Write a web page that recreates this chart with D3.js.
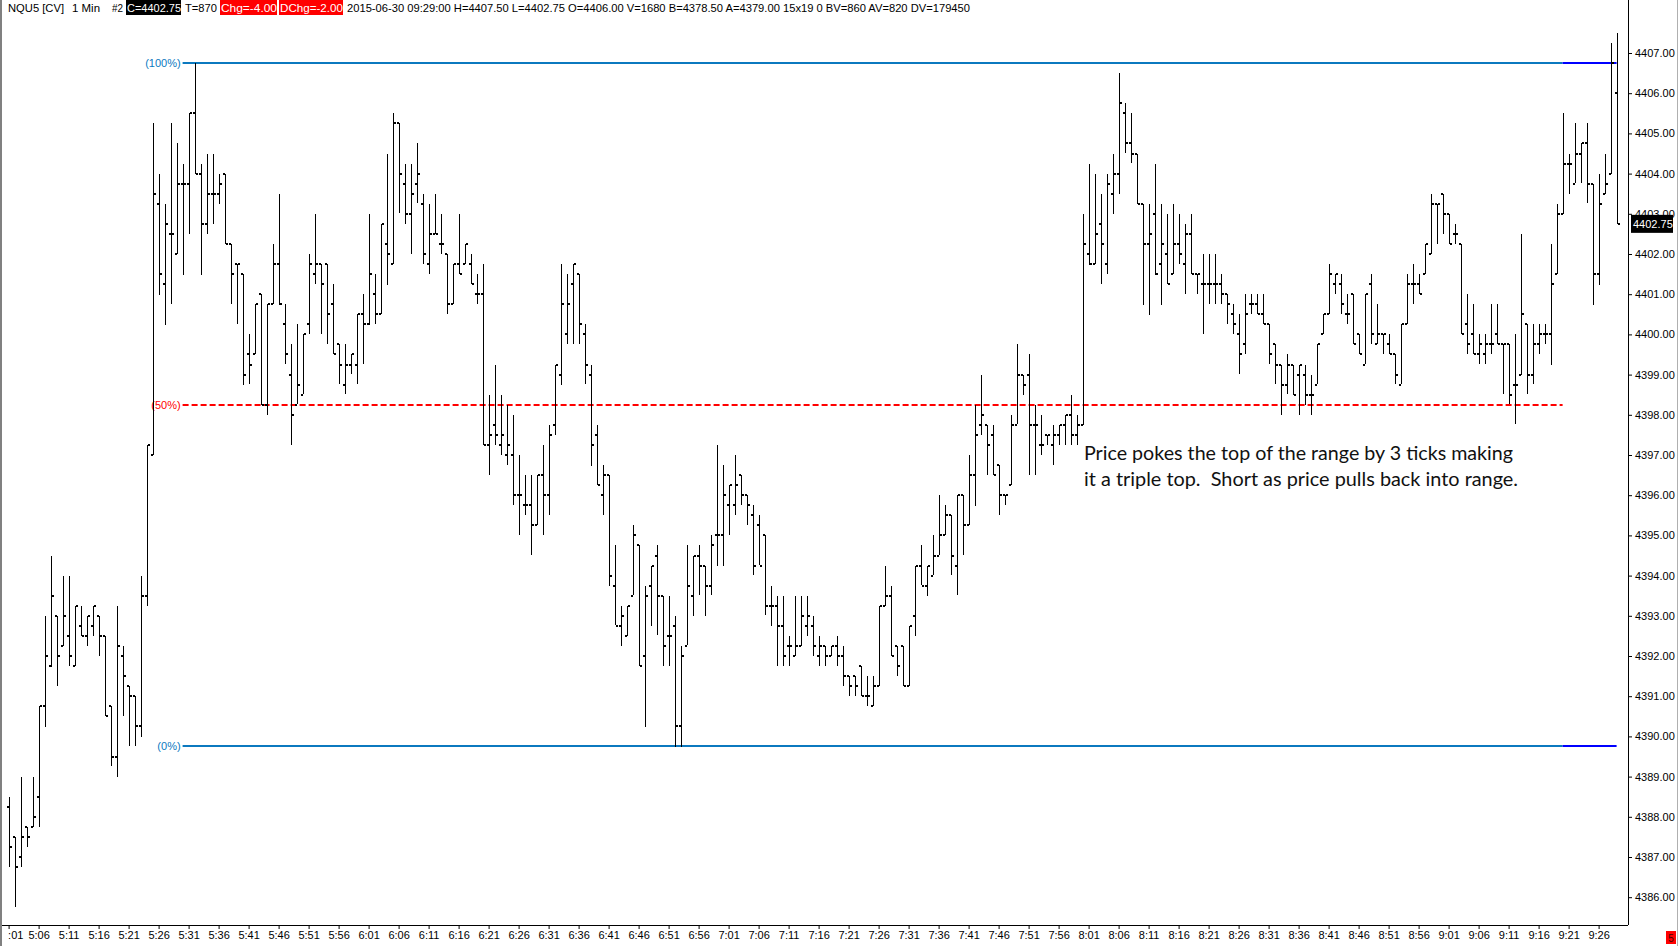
<!DOCTYPE html>
<html>
<head>
<meta charset="utf-8">
<script src="https://cdn.jsdelivr.net/npm/d3@7"></script>
<style>
  body { margin: 0; background: #fff; }
  svg { display: block; font-family: "Liberation Sans", Arial, sans-serif; }
</style>
</head>
<body>
<svg width="1680" height="946"></svg>
<script>
// 1 min bars, NQU5, 5:01 .. 9:29
var opens = [
  4388.25, 4387.5, 4387.0, 4387.75, 4387.75, 4388.5, 4390.75, 4391.75, 4393.0, 4392.25,
  4392.5, 4391.75, 4392.75, 4392.5, 4392.75, 4393.0, 4392.5, 4390.75, 4389.5, 4392.0,
  4391.25, 4391.0, 4390.25, 4393.5, 4397.0, 4403.25, 4401.25, 4402.5, 4402.0, 4403.75,
  4403.75, 4405.5, 4404.0, 4402.75, 4403.5, 4403.5, 4404.0, 4402.25, 4401.75, 4401.5,
  4399.5, 4399.5, 4401.0, 4398.25, 4400.75, 4401.75, 4400.25, 4399.0, 4398.25, 4398.5,
  4400.25, 4401.5, 4401.75, 4401.75, 4400.75, 4399.75, 4398.75, 4399.25, 4399.25, 4400.5,
  4400.25, 4401.0, 4400.5, 4402.25, 4401.75, 4405.25, 4403.75, 4403.0, 4403.75, 4403.25,
  4401.75, 4402.5, 4402.25, 4402.0, 4400.75, 4401.75, 4401.75, 4401.75, 4401.0, 4401.0,
  4397.25, 4397.75, 4397.25, 4397.0, 4397.0, 4396.0, 4395.75, 4395.75, 4395.25, 4396.5,
  4396.0, 4397.75, 4399.0, 4400.0, 4401.25, 4401.5, 4400.0, 4399.0, 4397.5, 4396.0,
  4396.5, 4393.75, 4392.75, 4392.5, 4393.5, 4394.75, 4392.0, 4393.75, 4394.5, 4393.5,
  4392.5, 4392.75, 4390.25, 4392.25, 4393.5, 4394.5, 4394.25, 4393.75, 4395.0, 4395.0,
  4395.75, 4395.75, 4396.5, 4396.0, 4395.5, 4395.25, 4395.0, 4393.25, 4393.25, 4392.75,
  4392.25, 4392.0, 4392.25, 4392.75, 4392.75, 4392.0, 4392.25, 4392.0, 4392.25, 4392.0,
  4391.5, 4391.5, 4391.75, 4391.0, 4390.75, 4391.25, 4393.25, 4393.5, 4392.25, 4392.25,
  4391.25, 4393.0, 4394.25, 4393.75, 4394.0, 4394.5, 4395.0, 4395.5, 4394.25, 4396.0,
  4395.25, 4396.5, 4397.75, 4397.75, 4397.5, 4396.75, 4396.0, 4396.25, 4397.75, 4399.0,
  4399.0, 4397.75, 4397.25, 4397.5, 4397.25, 4397.5, 4397.75, 4398.0, 4397.5, 4397.75,
  4402.0, 4401.75, 4402.75, 4401.75, 4403.5, 4404.0, 4405.5, 4404.75, 4404.5, 4403.25,
  4402.25, 4403.0, 4401.75, 4402.0, 4401.5, 4402.25, 4401.75, 4402.5, 4401.5, 4401.25,
  4401.25, 4401.25, 4401.25, 4401.0, 4400.5, 4400.0, 4399.75, 4400.75, 4400.75, 4400.5,
  4400.25, 4399.75, 4399.25, 4398.75, 4399.25, 4399.0, 4399.0, 4398.5, 4398.75, 4400.0,
  4400.5, 4401.25, 4401.25, 4400.5, 4401.0, 4400.0, 4399.25, 4401.25, 4399.75, 4400.0,
  4399.75, 4399.5, 4398.75, 4400.25, 4401.25, 4401.25, 4401.5, 4402.0, 4403.25, 4403.5,
  4403.0, 4402.5, 4402.25, 4400.25, 4400.0, 4399.5, 4399.5, 4399.75, 4400.0, 4399.75,
  4399.75, 4398.75, 4399.0, 4400.25, 4399.0, 4399.75, 4400.0, 4400.0, 4401.5, 4403.0,
  4404.25, 4403.75, 4404.5, 4404.75, 4403.75, 4401.5, 4403.5, 4404.0, 4406.0
];
var highs = [
  4388.5, 4387.5, 4389.0, 4387.75, 4389.0, 4390.75, 4393.0, 4394.5, 4393.0, 4394.0,
  4394.0, 4393.25, 4393.25, 4393.0, 4393.25, 4393.0, 4392.5, 4390.75, 4393.25, 4392.25,
  4391.25, 4391.0, 4394.0, 4397.25, 4405.25, 4404.0, 4403.25, 4405.25, 4404.75, 4404.25,
  4405.5, 4406.75, 4404.25, 4404.5, 4404.5, 4404.0, 4404.0, 4402.25, 4401.75, 4401.5,
  4400.0, 4400.75, 4401.0, 4400.75, 4402.25, 4403.5, 4400.75, 4399.75, 4400.25, 4400.0,
  4402.0, 4403.0, 4401.75, 4401.75, 4401.25, 4399.75, 4399.75, 4399.5, 4400.5, 4401.0,
  4403.0, 4401.5, 4402.75, 4404.5, 4405.5, 4405.25, 4404.25, 4404.25, 4404.75, 4403.5,
  4403.25, 4403.5, 4403.0, 4402.0, 4401.75, 4403.0, 4402.25, 4402.0, 4401.5, 4401.75,
  4398.5, 4399.25, 4398.5, 4398.25, 4398.0, 4397.0, 4396.5, 4396.5, 4396.5, 4397.25,
  4397.75, 4399.25, 4401.75, 4401.5, 4401.75, 4401.5, 4400.25, 4399.25, 4397.75, 4396.75,
  4396.5, 4394.75, 4393.25, 4393.25, 4395.25, 4394.75, 4393.75, 4394.25, 4394.75, 4393.5,
  4393.5, 4393.0, 4392.25, 4394.75, 4394.5, 4394.75, 4394.25, 4395.0, 4397.25, 4396.75,
  4396.25, 4397.0, 4396.5, 4396.0, 4395.75, 4395.5, 4395.0, 4393.75, 4393.5, 4393.5,
  4392.5, 4393.5, 4393.5, 4393.5, 4393.0, 4392.5, 4392.25, 4392.25, 4392.5, 4392.25,
  4391.5, 4391.5, 4391.75, 4391.5, 4391.5, 4393.25, 4394.25, 4393.75, 4392.25, 4392.25,
  4392.75, 4394.25, 4394.75, 4394.25, 4395.0, 4396.0, 4395.75, 4395.5, 4396.0, 4396.0,
  4397.0, 4398.25, 4399.0, 4397.75, 4397.75, 4396.75, 4396.0, 4398.0, 4399.75, 4399.0,
  4399.5, 4398.25, 4398.0, 4397.5, 4397.75, 4397.75, 4398.0, 4398.5, 4398.0, 4403.0,
  4404.25, 4404.0, 4403.5, 4404.0, 4404.5, 4406.5, 4405.75, 4405.5, 4404.5, 4403.25,
  4403.25, 4404.25, 4403.25, 4403.0, 4403.25, 4403.0, 4402.75, 4403.0, 4401.5, 4402.0,
  4402.0, 4402.0, 4401.5, 4401.0, 4400.75, 4400.5, 4401.0, 4401.0, 4401.0, 4401.0,
  4400.25, 4399.75, 4399.25, 4399.5, 4399.25, 4399.25, 4399.25, 4399.0, 4399.75, 4400.5,
  4401.75, 4401.5, 4401.5, 4401.0, 4401.0, 4400.0, 4401.0, 4401.5, 4400.75, 4400.0,
  4400.0, 4399.5, 4400.25, 4401.5, 4401.75, 4401.5, 4402.25, 4403.5, 4403.25, 4403.5,
  4403.0, 4402.75, 4402.25, 4401.0, 4400.75, 4400.0, 4400.0, 4400.75, 4400.75, 4399.75,
  4399.75, 4400.0, 4402.5, 4400.25, 4400.25, 4400.25, 4400.25, 4402.25, 4403.25, 4405.5,
  4404.5, 4405.25, 4404.75, 4405.25, 4403.75, 4404.0, 4404.5, 4407.25, 4407.5
];
var lows = [
  4386.75, 4385.75, 4386.75, 4387.25, 4387.75, 4387.75, 4390.25, 4391.75, 4391.25, 4392.25,
  4391.75, 4391.75, 4392.5, 4392.25, 4392.5, 4392.0, 4390.5, 4389.25, 4389.0, 4390.5,
  4389.75, 4389.75, 4390.0, 4393.25, 4397.0, 4401.0, 4400.25, 4400.75, 4402.0, 4401.5,
  4402.5, 4404.0, 4401.5, 4402.5, 4402.75, 4403.25, 4402.25, 4400.75, 4400.25, 4398.75,
  4398.75, 4399.5, 4398.25, 4398.0, 4400.75, 4400.75, 4399.25, 4397.25, 4398.25, 4398.5,
  4400.0, 4401.25, 4400.0, 4399.75, 4399.5, 4398.75, 4398.5, 4399.0, 4398.75, 4399.25,
  4400.25, 4400.25, 4400.5, 4401.25, 4401.75, 4403.0, 4402.75, 4402.0, 4403.25, 4401.75,
  4401.5, 4402.5, 4402.0, 4400.5, 4400.75, 4401.5, 4401.75, 4401.25, 4400.75, 4397.25,
  4396.5, 4397.25, 4397.0, 4396.75, 4395.75, 4395.0, 4395.5, 4394.5, 4395.25, 4395.0,
  4395.5, 4397.5, 4398.75, 4399.75, 4399.75, 4399.75, 4398.75, 4396.75, 4396.25, 4395.5,
  4393.75, 4392.75, 4392.25, 4392.5, 4393.5, 4391.75, 4390.25, 4392.75, 4392.5, 4391.75,
  4391.75, 4389.75, 4389.75, 4392.25, 4393.0, 4393.5, 4393.0, 4393.5, 4394.25, 4394.25,
  4395.0, 4395.5, 4395.75, 4395.25, 4394.0, 4394.25, 4393.0, 4392.75, 4391.75, 4391.75,
  4391.75, 4392.0, 4392.25, 4392.5, 4392.0, 4391.75, 4391.75, 4392.0, 4391.75, 4391.25,
  4391.0, 4391.0, 4391.0, 4390.75, 4390.75, 4391.25, 4393.25, 4392.0, 4391.5, 4391.25,
  4391.25, 4392.5, 4393.75, 4393.5, 4394.0, 4394.5, 4395.0, 4394.0, 4393.5, 4394.5,
  4395.25, 4395.75, 4397.5, 4396.5, 4396.5, 4395.5, 4395.75, 4396.25, 4397.75, 4398.5,
  4396.5, 4396.5, 4397.0, 4397.25, 4396.75, 4397.25, 4397.25, 4397.25, 4397.25, 4397.75,
  4401.75, 4401.75, 4401.25, 4401.5, 4403.0, 4403.5, 4404.5, 4404.25, 4403.25, 4400.75,
  4400.5, 4401.5, 4400.75, 4401.25, 4401.5, 4401.75, 4401.0, 4401.5, 4401.0, 4400.0,
  4400.75, 4400.75, 4400.75, 4400.25, 4400.0, 4399.0, 4399.5, 4400.5, 4400.5, 4400.25,
  4399.25, 4398.75, 4398.0, 4398.5, 4398.5, 4398.0, 4398.25, 4398.0, 4398.75, 4400.0,
  4400.5, 4401.0, 4400.5, 4400.25, 4399.75, 4399.5, 4399.25, 4399.75, 4399.75, 4399.5,
  4399.5, 4398.75, 4398.75, 4400.25, 4400.75, 4401.0, 4401.5, 4402.0, 4402.25, 4402.5,
  4402.25, 4402.25, 4400.0, 4399.5, 4399.5, 4399.25, 4399.25, 4399.5, 4399.75, 4398.5,
  4398.25, 4397.75, 4399.0, 4398.5, 4398.75, 4399.5, 4399.75, 4399.25, 4401.5, 4403.0,
  4403.5, 4403.75, 4403.75, 4403.25, 4400.75, 4401.25, 4403.5, 4404.0, 4402.75
];
var closes = [
  4387.25, 4386.75, 4387.5, 4387.5, 4388.0, 4390.75, 4392.0, 4393.5, 4392.0, 4393.0,
  4392.0, 4393.25, 4392.5, 4393.0, 4393.25, 4392.5, 4390.5, 4389.5, 4392.25, 4391.5,
  4391.0, 4390.25, 4393.5, 4397.25, 4403.5, 4401.5, 4402.75, 4402.5, 4403.75, 4403.75,
  4405.5, 4404.0, 4402.75, 4403.5, 4403.5, 4403.75, 4402.25, 4401.5, 4401.75, 4399.0,
  4399.25, 4400.75, 4398.25, 4400.75, 4401.75, 4400.75, 4399.5, 4398.0, 4398.75, 4400.0,
  4401.75, 4401.75, 4401.25, 4400.5, 4399.5, 4399.25, 4399.25, 4399.5, 4400.5, 4400.25,
  4401.5, 4400.5, 4402.75, 4402.0, 4405.25, 4404.0, 4403.0, 4403.5, 4404.0, 4402.0,
  4402.5, 4402.5, 4402.25, 4400.75, 4401.75, 4401.5, 4402.25, 4401.25, 4401.0, 4397.25,
  4397.5, 4397.5, 4397.5, 4397.25, 4396.0, 4396.0, 4395.75, 4395.25, 4396.5, 4396.0,
  4397.5, 4399.25, 4400.75, 4400.75, 4401.75, 4400.25, 4399.25, 4397.25, 4396.25, 4396.5,
  4394.0, 4392.75, 4393.0, 4393.25, 4395.0, 4391.75, 4393.5, 4394.25, 4393.5, 4392.25,
  4392.5, 4390.25, 4392.0, 4393.75, 4394.5, 4394.25, 4393.75, 4394.75, 4395.0, 4396.0,
  4396.25, 4396.25, 4396.0, 4395.75, 4394.25, 4394.25, 4393.25, 4393.25, 4392.75, 4392.0,
  4392.25, 4392.25, 4393.0, 4393.0, 4392.25, 4392.25, 4392.0, 4392.25, 4392.0, 4391.5,
  4391.25, 4391.25, 4391.0, 4391.0, 4391.25, 4393.25, 4393.5, 4392.0, 4391.75, 4391.25,
  4392.75, 4394.25, 4393.75, 4394.25, 4394.5, 4395.0, 4395.5, 4394.5, 4396.0, 4395.25,
  4396.5, 4397.5, 4398.0, 4397.25, 4396.5, 4396.0, 4396.0, 4397.75, 4399.0, 4398.75,
  4397.75, 4397.75, 4397.25, 4397.5, 4397.5, 4397.75, 4398.0, 4397.5, 4397.75, 4402.25,
  4401.75, 4402.5, 4402.25, 4403.75, 4404.0, 4405.75, 4404.75, 4404.5, 4403.25, 4402.25,
  4402.5, 4401.5, 4402.25, 4401.25, 4402.25, 4402.0, 4402.5, 4401.5, 4401.5, 4401.25,
  4401.25, 4401.25, 4401.0, 4400.75, 4400.25, 4399.5, 4400.5, 4400.75, 4400.5, 4400.25,
  4399.5, 4399.25, 4398.75, 4399.25, 4398.5, 4399.25, 4398.5, 4398.5, 4399.75, 4400.5,
  4401.5, 4401.5, 4400.75, 4400.5, 4399.75, 4399.5, 4401.0, 4400.0, 4400.0, 4400.0,
  4399.5, 4399.0, 4400.25, 4401.25, 4401.25, 4401.0, 4402.25, 4403.25, 4403.25, 4403.0,
  4402.25, 4402.5, 4400.0, 4399.75, 4399.5, 4399.75, 4399.75, 4399.75, 4399.75, 4399.75,
  4398.5, 4398.75, 4400.5, 4399.0, 4399.75, 4400.0, 4400.0, 4401.25, 4403.0, 4404.25,
  4404.25, 4404.5, 4404.75, 4403.75, 4401.5, 4403.25, 4403.75, 4406.75, 4402.75
];

// bar times as categories (minute of day, 5:01 onwards)
var times = [];
for (i = 0; i < opens.length; i++) {
  var m = 301 + i;
  times.push(Math.floor(m / 60) + ':' + d3.format('02')(m % 60));
}
var timeTicks = times.filter(function(d, i) { return i % 5 === 0; });

var priceTicks = d3.range(4386, 4408, 1);

var fibLabels = ['(100%)', '(50%)', '(0%)'];
var fibValues = [4406.75, 4398.25, 4389.75];
var fibColors = ['#0b79bf', '#ff0000', '#0b79bf'];

var lastPrice = 4402.75;

var noteLines = [
  'Price pokes the top of the range by 3 ticks making',
  'it a triple top.  Short as price pulls back into range.'
];

var svg = d3.select('svg'),
  width = +svg.attr('width'),
  height = +svg.attr('height');

var plotRight = 1628,
  plotBottom = 925;

var x = d3.scalePoint()
  .domain(times)
  .range([8.6, 8.6 + (times.length - 1) * 6]);

var y = d3.scaleLinear()
  .domain([4386, 4407])
  .range([897.2, 53]);

svg.append('rect')
  .attr('width', width)
  .attr('height', height)
  .attr('fill', '#fff');

// fib levels
var fibStart = x('5:30'),
  fibMid = x('9:20'),
  fibEnd = x('9:29');

var fib = svg.append('g').attr('class', 'fib');

fibValues.forEach(function(v, i) {
  var yy = Math.round(y(v));
  fib.append('line')
    .attr('x1', fibStart).attr('x2', fibMid)
    .attr('y1', yy).attr('y2', yy)
    .attr('stroke', fibColors[i])
    .attr('stroke-width', 2)
    .attr('stroke-dasharray', i === 1 ? '6,3' : null);
  if (i !== 1) {
    fib.append('line')
      .attr('x1', fibMid).attr('x2', fibEnd)
      .attr('y1', yy).attr('y2', yy)
      .attr('stroke', '#0000ff')
      .attr('stroke-width', 2);
  }
  fib.append('text')
    .attr('x', fibStart - 2)
    .attr('y', yy)
    .attr('dy', '0.35em')
    .attr('text-anchor', 'end')
    .attr('font-size', 11)
    .attr('fill', fibColors[i])
    .text(fibLabels[i]);
});

// ohlc bars
var bars = svg.append('g')
  .attr('class', 'bars')
  .attr('shape-rendering', 'crispEdges')
  .selectAll('g')
  .data(times)
  .enter()
  .append('g');

bars.append('rect')
  .attr('x', function(d) { return Math.round(x(d)); })
  .attr('y', function(d, i) { return Math.round(y(highs[i])); })
  .attr('width', 1)
  .attr('height', function(d, i) { return Math.max(1, Math.round(y(lows[i]) - y(highs[i]))); })
  .attr('fill', '#000');

bars.append('rect')
  .attr('x', function(d) { return Math.round(x(d)) - 2; })
  .attr('y', function(d, i) { return Math.round(y(opens[i])) - 1; })
  .attr('width', 2)
  .attr('height', 2)
  .attr('fill', '#000');

bars.append('rect')
  .attr('x', function(d) { return Math.round(x(d)) + 1; })
  .attr('y', function(d, i) { return Math.round(y(closes[i])) - 1; })
  .attr('width', 2)
  .attr('height', 2)
  .attr('fill', '#000');

// note
svg.append('g')
  .selectAll('text')
  .data(noteLines)
  .enter()
  .append('text')
  .attr('x', 1084)
  .attr('y', function(d, i) { return 460 + i * 26; })
  .attr('font-family', 'Lato, "Open Sans", sans-serif')
  .attr('font-size', 18.5)
  .attr('fill', '#111')
  .attr('style', 'white-space: pre')
  .attr('textLength', function(d, i) { return i === 0 ? 429 : 434; })
  .attr('lengthAdjust', 'spacingAndGlyphs')
  .text(function(d) { return d; });

// right price axis
svg.append('g')
  .attr('transform', 'translate(' + plotRight + ',0)')
  .call(d3.axisRight(y)
    .tickValues(priceTicks)
    .tickSize(4)
    .tickPadding(3)
    .tickFormat(d3.format('.2f')))
  .call(function(g) {
    g.select('.domain').remove();
    g.selectAll('text').attr('font-size', 11).attr('font-family', '"Liberation Sans", Arial, sans-serif').attr('fill', '#000');
  });

svg.append('line')
  .attr('x1', plotRight + 0.5).attr('x2', plotRight + 0.5)
  .attr('y1', 0).attr('y2', plotBottom)
  .attr('stroke', '#000');

// last price box
var lp = svg.append('g').attr('transform', 'translate(1631,' + y(lastPrice) + ')');
lp.append('rect')
  .attr('x', 0).attr('y', -9)
  .attr('width', 42).attr('height', 18)
  .attr('fill', '#000');
lp.append('text')
  .attr('x', 2).attr('dy', '0.35em')
  .attr('font-size', 11)
  .attr('fill', '#fff')
  .text(d3.format('.2f')(lastPrice));

// bottom time axis (first label is cut by the left frame in the original)
svg.append('g')
  .attr('transform', 'translate(0,' + plotBottom + ')')
  .call(d3.axisBottom(x)
    .tickValues(timeTicks)
    .tickSize(4)
    .tickPadding(2)
    .tickFormat(function(d, i) { return i === 0 ? d.slice(1) : d; }))
  .call(function(g) {
    g.select('.domain').remove();
    g.selectAll('text').attr('font-size', 11).attr('font-family', '"Liberation Sans", Arial, sans-serif').attr('fill', '#000');
    g.select('.tick text').attr('text-anchor', 'start').attr('x', -1);
  });

svg.append('line')
  .attr('x1', 0).attr('x2', plotRight)
  .attr('y1', plotBottom + 0.5).attr('y2', plotBottom + 0.5)
  .attr('stroke', '#000');

// frame bits
svg.append('rect').attr('x', 0).attr('y', 0).attr('width', 2).attr('height', height).attr('fill', '#808080');
svg.append('rect').attr('x', 1677).attr('y', 0).attr('width', 1).attr('height', height).attr('fill', '#b0b0b0');
svg.append('rect').attr('x', 1666).attr('y', 931).attr('width', 10).attr('height', 13).attr('fill', '#ff0000');
svg.append('text').attr('x', 1671).attr('y', 942).attr('text-anchor', 'middle')
  .attr('font-size', 10).attr('fill', '#400').text('5');

// header line
var header = [
  { t: 'NQU5 [CV]', x: 8, w: 56 },
  { t: '1 Min', x: 72, w: 28 },
  { t: '#2', x: 112, w: 11 },
  { t: 'C=4402.75', x: 127, w: 54, bg: '#000' },
  { t: 'T=870', x: 185, w: 32 },
  { t: 'Chg=-4.00', x: 221, w: 56, bg: '#ff0000' },
  { t: 'DChg=-2.00', x: 280, w: 63, bg: '#ff0000' },
  { t: '2015-06-30 09:29:00 H=4407.50 L=4402.75 O=4406.00 V=1680 B=4378.50 A=4379.00 15x19 0 BV=860 AV=820 DV=179450', x: 347, w: 623 }
];

var hd = svg.append('g').attr('class', 'header');
header.forEach(function(h) {
  if (h.bg) {
    hd.append('rect')
      .attr('x', h.x - 1).attr('y', 0)
      .attr('width', h.w + 1).attr('height', 15)
      .attr('fill', h.bg);
  }
  hd.append('text')
    .attr('x', h.x)
    .attr('y', 12)
    .attr('font-size', 11.5)
    .attr('fill', h.bg ? '#fff' : '#000')
    .attr('textLength', h.w)
    .attr('lengthAdjust', 'spacingAndGlyphs')
    .text(h.t);
});
</script>
</body>
</html>
